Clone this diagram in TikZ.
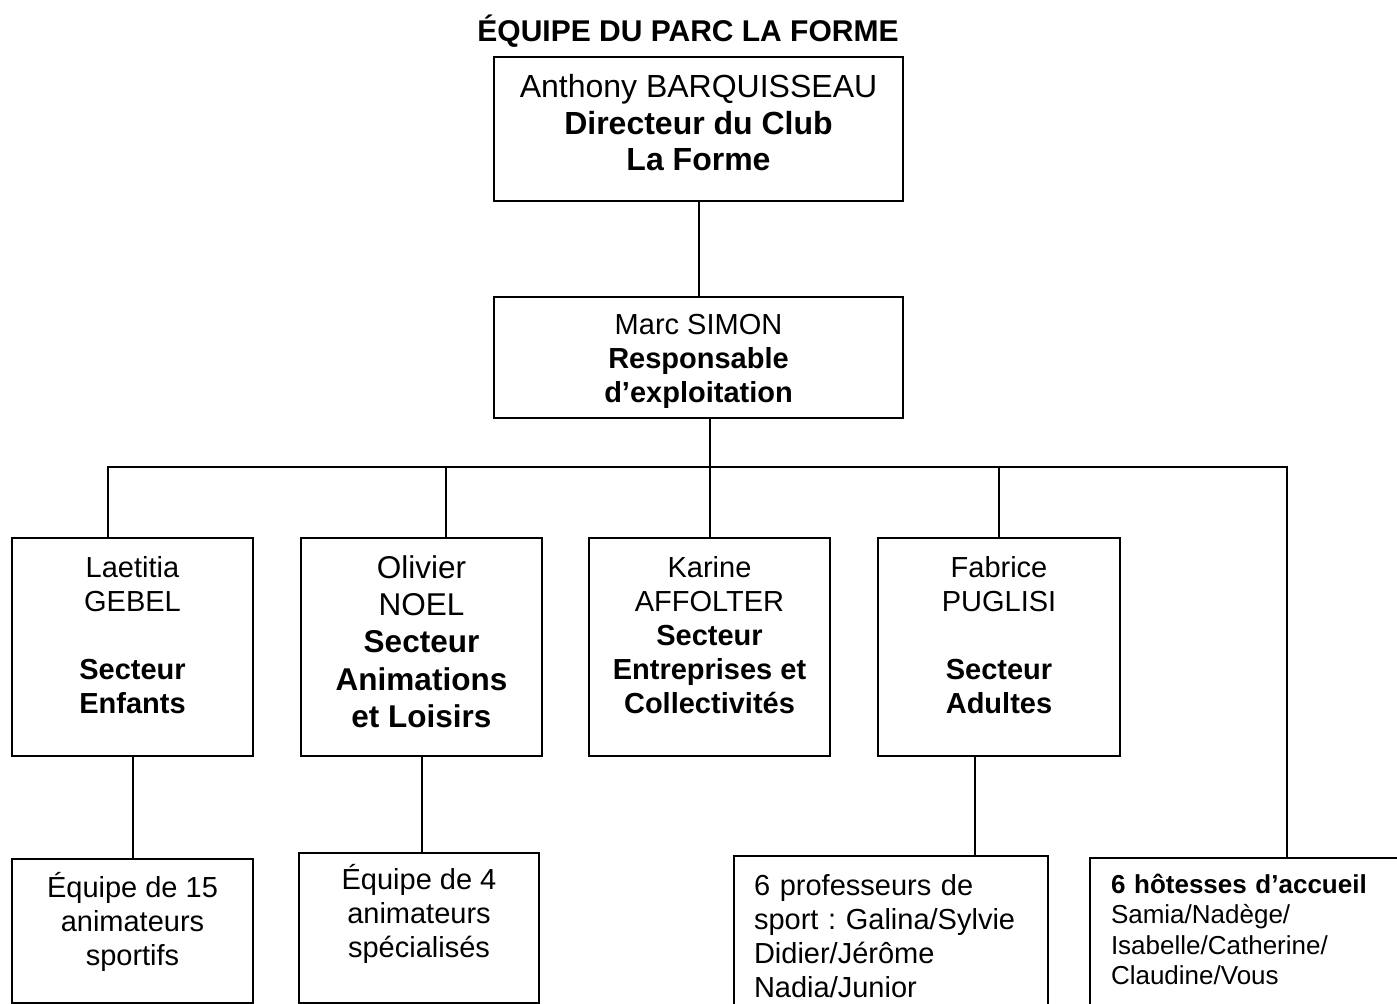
\documentclass[tikz,border=0pt]{standalone}
\usepackage{fontspec}
\setmainfont{Liberation Sans}
\frenchspacing
\begin{document}
\begin{tikzpicture}[x=0.5pt,y=-0.5pt,line width=1pt,
  box/.style={draw,line width=1pt,inner ysep=0pt,inner xsep=0pt,align=center,anchor=base},
  lbox/.style={draw,line width=1pt,inner ysep=0pt,align=left,anchor=base west},
  fbig/.style={font=\fontsize{16pt}{18.25pt}\selectfont},
  fmid/.style={font=\fontsize{15.75pt}{18.5pt}\selectfont},
  fstd/.style={font=\fontsize{14.5pt}{17pt}\selectfont},
  fsmall/.style={font=\fontsize{13pt}{15.3pt}\selectfont},
  link/.style={draw,line width=1pt}]
\useasboundingbox (0,0) rectangle (1397,1004);
\clip (0,0) rectangle (1397,1004);
% title
\node[anchor=base,font=\fontsize{15pt}{18pt}\selectfont\bfseries,inner sep=0pt] (title) at (688,42) {ÉQUIPE DU PARC LA FORME};
% top boxes (base = last line)
\node[box,fbig,minimum width=204.5pt,text height=57pt,text depth=15pt] (dir) at (698.5,171)
  {Anthony BARQUISSEAU\\\textbf{Directeur du Club}\\\textbf{La Forme}};
\node[box,fstd,minimum width=204.5pt,text height=53pt,text depth=7.5pt] (marc) at (698.5,403)
  {Marc SIMON\\\textbf{Responsable}\\\textbf{d’exploitation}};
% sector boxes
\node[box,fstd,minimum width=120.5pt,text height=87.5pt,text depth=21.5pt] (lae) at (132.5,713)
  {Laetitia\\GEBEL\\[17pt]\textbf{Secteur}\\\textbf{Enfants}};
\node[box,fmid,minimum width=120.5pt,text height=94.5pt,text depth=14.5pt] (oli) at (421.5,727)
  {Olivier\\NOEL\\\textbf{Secteur}\\\textbf{Animations}\\\textbf{et Loisirs}};
\node[box,fstd,minimum width=120.5pt,text height=87.5pt,text depth=21.5pt] (kar) at (709.5,713)
  {Karine\\AFFOLTER\\\textbf{Secteur}\\\textbf{Entreprises et}\\\textbf{Collectivités}};
\node[box,fstd,minimum width=121pt,text height=87.5pt,text depth=21.5pt] (fab) at (999,713)
  {Fabrice\\PUGLISI\\[17pt]\textbf{Secteur}\\\textbf{Adultes}};
% bottom boxes
\node[box,fstd,minimum width=120.5pt,text height=53pt,text depth=19pt] (eq15) at (132.5,965)
  {Équipe de 15\\animateurs\\sportifs};
\node[box,fstd,minimum width=120pt,text height=52pt,text depth=23pt] (eq4) at (419,957)
  {Équipe de 4\\animateurs\\spécialisés};
\node[lbox,fstd,inner xsep=10pt,text width=137pt,text height=19.5pt,text depth=67.5pt] (prof) at (733,895)
  {6 professeurs de\\sport : Galina/Sylvie\\Didier/Jérôme\\Nadia/Junior};
\node[lbox,fsmall,inner xsep=10.5pt,text width=149.5pt,text height=17.5pt,text depth=68.5pt] (hot) at (1089,893)
  {\textbf{6 hôtesses d’accueil}\\Samia/Nadège/\\Isabelle/Catherine/\\Claudine/Vous};
% connectors
\coordinate (busL) at (108,467);
\coordinate (busO) at (446,467);
\coordinate (busR) at (1287,467);
\coordinate (fd) at (975,800);
\draw[link] (dir) -- (marc);
\draw[link] (kar.north |- marc.south) -- (kar.north);
\draw[link] (busL |- lae.north) -- (busL) -- (busR) -- (busR |- hot.north);
\draw[link] (busO) -- (busO |- oli.north);
\draw[link] (fab.north |- busR) -- (fab.north);
\draw[link] (lae.south) -- (lae.south |- eq15.north);
\draw[link] (oli.south) -- (oli.south |- eq4.north);
\draw[link] (fd |- fab.south) -- (fd |- prof.north);
\end{tikzpicture}
\end{document}
